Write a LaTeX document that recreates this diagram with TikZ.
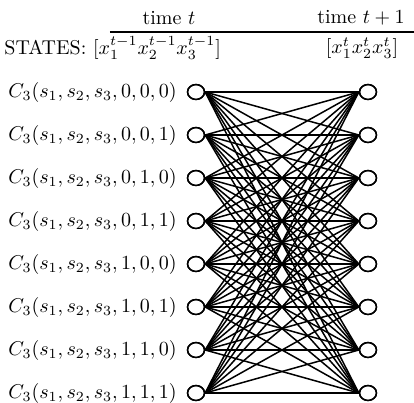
\documentclass[tikz,border=0pt]{standalone}
\usetikzlibrary{shapes.geometric}
\begin{document}
\begin{tikzpicture}[x=0.5pt,y=-0.5pt,
  state/.style={draw,ellipse,fill=white,line width=0.8pt,minimum width=8.4pt,minimum height=7.4pt,inner sep=0pt},
  lbl/.style={anchor=east,inner sep=0pt},
  edge/.style={line width=0.75pt}]
\useasboundingbox (0,0) rectangle (414,403);
\node (tt) at (169,18) {time $t$};
\node (tt1) at (361,18) {time $t+1$};
\coordinate (ruleA) at (110,32);
\coordinate (ruleB) at (414,32);
\draw[line width=0.8pt] (ruleA) -- (ruleB);
\node[anchor=west,inner sep=0pt] (st) at (4,48) {STATES: $[x_1^{t-1}x_2^{t-1}x_3^{t-1}]$};
\node (st1) at (362,48) {$[x_1^t x_2^t x_3^t]$};
\foreach \i/\lab in {1/{0,0,0},2/{0,0,1},3/{0,1,0},4/{0,1,1},5/{1,0,0},6/{1,0,1},7/{1,1,0},8/{1,1,1}}{
  \pgfmathsetmacro{\yy}{92+(\i-1)*43}
  \node[lbl] (C\i) at (177,\yy) {$C_3(s_1,s_2,s_3,\lab)$};
  \node[state] (L\i) at (196,\yy) {};
  \node[state] (R\i) at (368,\yy) {};
}
\foreach \i in {1,...,8}{
  \foreach \j in {1,...,8}{
    \draw[edge] (L\i.east) -- (R\j.west);
  }
}
\foreach \i in {1,...,8}{
  \node[state] at (L\i) {};
  \node[state] at (R\i) {};
}
\end{tikzpicture}
\end{document}
